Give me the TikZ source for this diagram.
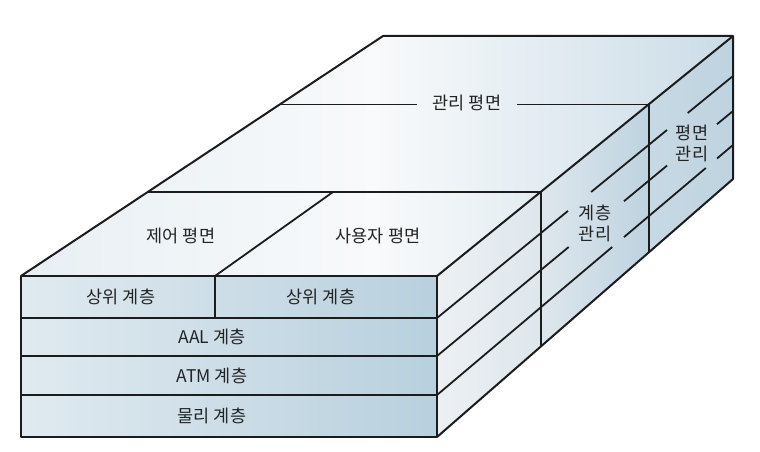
\documentclass[tikz,border=0pt]{standalone}
\usepackage{fontspec}
\setmainfont{Noto Sans CJK KR}
\definecolor{linec}{RGB}{28,28,28}
\definecolor{textc}{RGB}{35,35,35}
\definecolor{topL}{RGB}{232,239,244}
\definecolor{topM}{RGB}{248,250,251}
\definecolor{topR}{RGB}{203,220,231}
\definecolor{frL}{RGB}{224,234,240}
\definecolor{frR}{RGB}{184,208,222}
\definecolor{sdL}{RGB}{236,240,243}
\definecolor{sdM}{RGB}{222,231,237}
\definecolor{sdR}{RGB}{190,211,224}
\begin{document}
\begin{tikzpicture}[x=1pt,y=-1pt,line join=round,
  edge/.style={draw=linec,line width=2pt},
  inner/.style={draw=linec,line width=1.8pt},
  frontedge/.style={draw=linec,line width=2.6pt},
  lbl/.style={font=\fontsize{17.5}{21}\selectfont,text=textc,inner sep=0pt,align=center}]
\useasboundingbox (0,0) rectangle (760,452);
% faces
\shade[left color=topL,right color=topR,middle color=topM] (21,276) -- (383,36) -- (733,36) -- (437,276) -- cycle;
\shade[left color=sdL,right color=sdM] (437,276) -- (540.6,192) -- (540.6,346.7) -- (437,437) -- cycle;
\shade[left color=sdM,right color=sdR] (540.6,192) -- (648.5,104.5) -- (648.5,252.7) -- (540.6,346.7) -- cycle;
\shade[left color=sdR!70!sdM,right color=sdR] (648.5,104.5) -- (733,36) -- (733,179) -- (648.5,252.7) -- cycle;
\shade[left color=frL,right color=frR] (21,276) rectangle (437,437);
% top face lines
\draw[inner] (147.7,192) -- (540.6,192);
\draw[edge] (540.6,192) -- (540.6,346.7);
\draw[inner] (215,276) -- (333,192);
\draw[inner] (279.7,104.5) -- (417,104.5);
\draw[inner] (517,104.5) -- (648.5,104.5);
\draw[edge] (648.5,104.5) -- (648.5,252.7);
% side row lines with gaps
\draw[inner] (437,318) -- (568,210.9);
\draw[inner] (591.1,192) -- (667,130);
\draw[inner] (687.7,113) -- (733,76);
\draw[inner] (437,356) -- (568.7,247);
\draw[inner] (624,201.2) -- (667,165.6);
\draw[inner] (717,124.2) -- (733,111);
\draw[inner] (437,395) -- (612.2,247);
\draw[inner] (624,237.1) -- (705.8,168);
\draw[inner] (717,158.5) -- (733,145);
% outer edges
\draw[edge] (21,276) -- (383,36) -- (733,36) -- (733,179) -- (437,437);
\draw[edge] (437,276) -- (733,36);
% front face
\draw[frontedge] (21,318) -- (437,318);
\draw[frontedge] (21,356) -- (437,356);
\draw[frontedge] (21,395) -- (437,395);
\draw[frontedge] (215,276) -- (215,318);
\draw[frontedge] (21,276) rectangle (437,437);
% labels
\node[lbl] (mgmt) at (467,103) {관리 평면};
\node[lbl] (ctrl) at (181,236) {제어 평면};
\node[lbl] (user) at (378,236) {사용자 평면};
\node[lbl] (lmgmt) at (595,223) {계층\\관리};
\node[lbl] (pmgmt) at (692,143) {평면\\관리};
\node[lbl] (up1) at (121,297) {상위 계층};
\node[lbl] (up2) at (321,297) {상위 계층};
\node[lbl] (aal) at (212,337) {AAL 계층};
\node[lbl] (atm) at (212,376) {ATM 계층};
\node[lbl] (phy) at (212,416) {물리 계층};
\end{tikzpicture}
\end{document}
